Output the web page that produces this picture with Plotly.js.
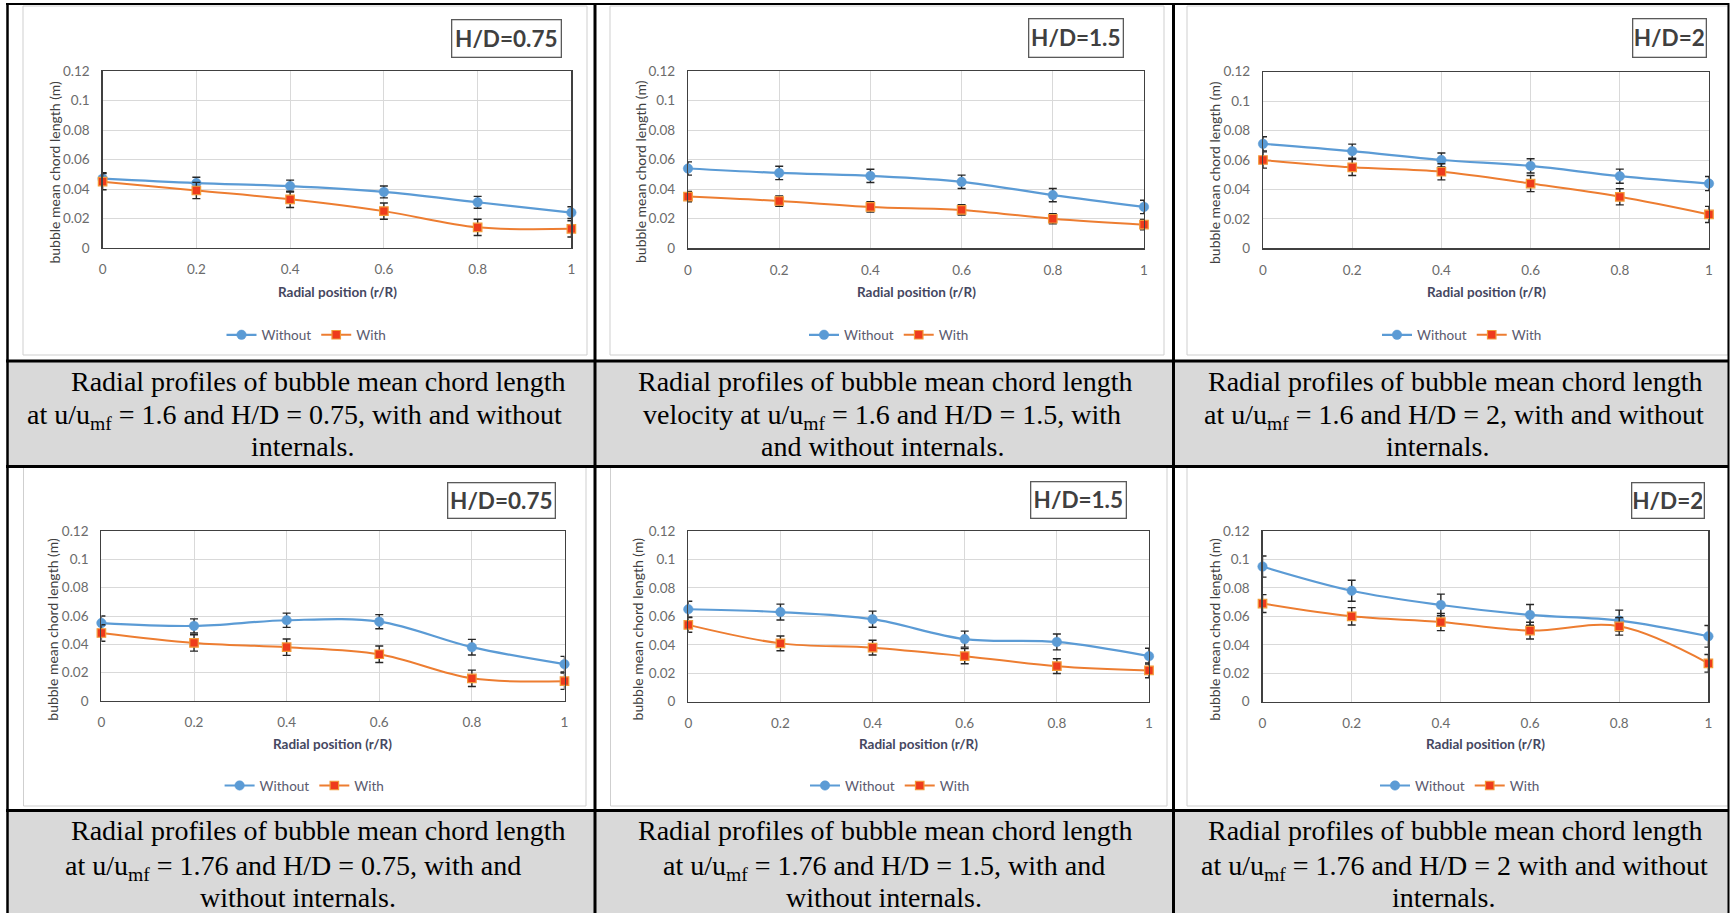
<!DOCTYPE html>
<html>
<head>
<meta charset="utf-8">
<script src="https://cdn.plot.ly/plotly-3.0.1.min.js"></script>
<style>
  html, body { margin: 0; padding: 0; background: #ffffff; }
  #fig { width: 1732px; height: 913px; }
</style>
</head>
<body>
<div id="fig"></div>
<script>
// Radial positions (r/R) and axis ticks shared by all six panels
const radialPos = [0, 0.2, 0.4, 0.6, 0.8, 1];
const yTicks = [0, 0.02, 0.04, 0.06, 0.08, 0.1, 0.12];
const seriesNames = ['Without', 'With'];
const hdLabels = ['H/D=0.75', 'H/D=1.5', 'H/D=2'];
const xTitle = 'Radial position (r/R)';
const yTitle = 'bubble mean chord length (m)';

// u/umf = 1.6
const without_u16_hd075 = [0.047, 0.044, 0.042, 0.038, 0.031, 0.024];
const with_u16_hd075    = [0.045, 0.039, 0.033, 0.025, 0.014, 0.013];
const errWithout_u16_hd075 = [0.004, 0.004, 0.004, 0.004, 0.004, 0.004];
const errWith_u16_hd075    = [0.0055, 0.0055, 0.0055, 0.0055, 0.0055, 0.0055];

const without_u16_hd15 = [0.054, 0.051, 0.049, 0.045, 0.036, 0.028];
const with_u16_hd15    = [0.035, 0.032, 0.028, 0.026, 0.020, 0.016];
const errWithout_u16_hd15 = [0.0045, 0.0045, 0.0045, 0.0045, 0.0045, 0.0045];
const errWith_u16_hd15    = [0.0035, 0.0035, 0.0035, 0.0035, 0.0035, 0.0035];

const without_u16_hd2 = [0.071, 0.066, 0.060, 0.056, 0.049, 0.044];
const with_u16_hd2    = [0.060, 0.055, 0.052, 0.044, 0.035, 0.023];
const errWithout_u16_hd2 = [0.0048, 0.0048, 0.0048, 0.0048, 0.0048, 0.0048];
const errWith_u16_hd2    = [0.0055, 0.0055, 0.0055, 0.0055, 0.0055, 0.0055];

// u/umf = 1.76
const without_u176_hd075 = [0.055, 0.053, 0.057, 0.056, 0.038, 0.026];
const with_u176_hd075    = [0.048, 0.041, 0.038, 0.033, 0.016, 0.014];
const errWithout_u176_hd075 = [0.005, 0.005, 0.005, 0.005, 0.0055, 0.0055];
const errWith_u176_hd075    = [0.0058, 0.0058, 0.0058, 0.0058, 0.0058, 0.0058];

const without_u176_hd15 = [0.065, 0.063, 0.058, 0.044, 0.042, 0.032];
const with_u176_hd15    = [0.054, 0.041, 0.038, 0.032, 0.025, 0.022];
const errWithout_u176_hd15 = [0.0056, 0.0056, 0.0057, 0.0056, 0.0056, 0.0056];
const errWith_u176_hd15    = [0.0052, 0.0052, 0.0052, 0.0053, 0.0052, 0.0052];

const without_u176_hd2 = [0.095, 0.078, 0.068, 0.061, 0.057, 0.046];
const with_u176_hd2    = [0.069, 0.060, 0.056, 0.050, 0.053, 0.027];
const errWithout_u176_hd2 = [0.0074, 0.0074, 0.0076, 0.0073, 0.0074, 0.0076];
const errWith_u176_hd2    = [0.0063, 0.0061, 0.006, 0.0059, 0.0062, 0.0062];

// Caption lines under each panel (row 1 then row 2, left to right)
const captionLines = [
  ['Radial profiles of bubble mean chord length', 'at u/u<sub>mf</sub> = 1.6 and H/D = 0.75, with and without', 'internals.'],
  ['Radial profiles of bubble mean chord length', 'velocity at u/u<sub>mf</sub> = 1.6 and H/D = 1.5, with', 'and without internals.'],
  ['Radial profiles of bubble mean chord length', 'at u/u<sub>mf</sub> = 1.6 and H/D = 2, with and without', 'internals.'],
  ['Radial profiles of bubble mean chord length', 'at u/u<sub>mf</sub> = 1.76 and H/D = 0.75, with and', 'without internals.'],
  ['Radial profiles of bubble mean chord length', 'at u/u<sub>mf</sub> = 1.76 and H/D = 1.5, with and', 'without internals.'],
  ['Radial profiles of bubble mean chord length', 'at u/u<sub>mf</sub> = 1.76 and H/D = 2 with and without', 'internals.']
];

// ---- page geometry (pixels) ----
const W = 1732, H = 913;
const fx = x => x / W;
const fy = y => 1 - y / H;

const SANS = 'Lato';
const SERIF = 'Liberation Serif';

const panels = [
  { wo: without_u16_hd075, wi: with_u16_hd075, ewo: errWithout_u16_hd075, ewi: errWith_u16_hd075, hd: hdLabels[0],
    px: [102.6, 571.4], py: [71, 248], box: [506.7, 38.3, 110, 38], leg: [231.5, 335], yt: [53.6, 172], xtY: 292 },
  { wo: without_u16_hd15, wi: with_u16_hd15, ewo: errWithout_u16_hd15, ewi: errWith_u16_hd15, hd: hdLabels[1],
    px: [688, 1144], py: [71, 248.3], box: [1075.5, 37.5, 95, 39], leg: [814, 335], yt: [640, 172], xtY: 292 },
  { wo: without_u16_hd2, wi: with_u16_hd2, ewo: errWithout_u16_hd2, ewi: errWith_u16_hd2, hd: hdLabels[2],
    px: [1263, 1709], py: [71.7, 248.3], box: [1669, 38.5, 74, 39], leg: [1387, 335], yt: [1215, 173], xtY: 292 },
  { wo: without_u176_hd075, wi: with_u176_hd075, ewo: errWithout_u176_hd075, ewi: errWith_u176_hd075, hd: hdLabels[0],
    px: [101.4, 564.5], py: [531, 701], box: [501, 500, 108, 36], leg: [229.6, 785.7], yt: [51.7, 629], xtY: 744 },
  { wo: without_u176_hd15, wi: with_u176_hd15, ewo: errWithout_u176_hd15, ewi: errWith_u176_hd15, hd: hdLabels[1],
    px: [688.3, 1149], py: [531, 701.7], box: [1078.7, 500, 96, 37], leg: [815, 785.7], yt: [637.4, 629], xtY: 744 },
  { wo: without_u176_hd2, wi: with_u176_hd2, ewo: errWithout_u176_hd2, ewi: errWith_u176_hd2, hd: hdLabels[2],
    px: [1262.5, 1708.4], py: [531, 701.7], box: [1667.5, 500, 73, 36], leg: [1385, 785.7], yt: [1213.7, 629], xtY: 744 }
];

// caption line centres (x per line) and line tops (y)
const captionX = [
  [318, 294, 302], [885, 882, 883], [1455, 1453.6, 1437],
  [318, 293, 298], [885, 884, 884], [1455, 1454, 1443]
];
const captionTopsRow = [[364.5, 398, 429.5], [813.5, 848.5, 880.5]];

const BLUE = '#5B9BD5', ORANGE = '#ED7D31';
const tickFont = { family: SANS, size: 13.5, color: '#6b6b6b' };

const data = [];
const layout = {
  width: W, height: H,
  margin: { l: 0, r: 0, t: 0, b: 0 },
  paper_bgcolor: '#ffffff', plot_bgcolor: '#ffffff',
  font: { family: SANS },
  showlegend: true,
  annotations: [], shapes: []
};

panels.forEach((p, i) => {
  const n = i + 1;
  const xa = n === 1 ? 'x' : 'x' + n;
  const ya = n === 1 ? 'y' : 'y' + n;
  const legName = n === 1 ? 'legend' : 'legend' + n;

  layout[n === 1 ? 'xaxis' : 'xaxis' + n] = {
    domain: [fx(p.px[0]), fx(p.px[1])], anchor: ya, range: [0, 1],
    tickvals: radialPos, showline: true, mirror: true, linecolor: '#404040', linewidth: 1.2,
    showgrid: true, gridcolor: '#d9d9d9', gridwidth: 1, zeroline: false,
    ticks: 'outside', ticklen: 9, tickcolor: 'rgba(0,0,0,0)', tickfont: tickFont, fixedrange: true
  };
  layout[n === 1 ? 'yaxis' : 'yaxis' + n] = {
    domain: [fy(p.py[1]), fy(p.py[0])], anchor: xa, range: [0, 0.12],
    tickvals: yTicks, showline: true, mirror: true, linecolor: '#404040', linewidth: 1.2,
    showgrid: true, gridcolor: '#d9d9d9', gridwidth: 1, zeroline: false,
    ticks: 'outside', ticklen: 9, tickcolor: 'rgba(0,0,0,0)', tickfont: tickFont, fixedrange: true
  };

  data.push({
    type: 'scatter', mode: 'lines+markers', name: seriesNames[0], x: radialPos, y: p.wo,
    xaxis: xa, yaxis: ya, legend: legName, cliponaxis: false,
    line: { color: BLUE, width: 2.2, shape: 'spline', smoothing: 1 },
    marker: { symbol: 'circle', size: 9.5, color: BLUE, line: { color: BLUE, width: 0.5 } },
    error_y: { type: 'data', array: p.ewo, visible: true, color: '#262626', thickness: 1.4, width: 4 }
  });
  data.push({
    type: 'scatter', mode: 'lines+markers', name: seriesNames[1], x: radialPos, y: p.wi,
    xaxis: xa, yaxis: ya, legend: legName, cliponaxis: false,
    line: { color: ORANGE, width: 2, shape: 'spline', smoothing: 1 },
    marker: { symbol: 'square', size: 8.5, color: '#EE3B1C', line: { color: '#F29A38', width: 1.2 } },
    error_y: { type: 'data', array: p.ewi, visible: true, color: '#262626', thickness: 1.4, width: 4 }
  });

  layout[legName] = {
    orientation: 'h', x: fx(p.leg[0] - 10), y: fy(p.leg[1]), xanchor: 'left', yanchor: 'middle',
    bgcolor: 'rgba(0,0,0,0)', borderwidth: 0, itemwidth: 30,
    font: { family: SANS, size: 13.5, color: '#5a5a6e' }
  };

  // axis titles
  layout.annotations.push({
    xref: 'paper', yref: 'paper', x: fx((p.px[0] + p.px[1]) / 2), y: fy(p.xtY),
    xanchor: 'center', yanchor: 'middle', showarrow: false, text: '<b>' + xTitle + '</b>',
    font: { family: SANS, size: 13.5, color: '#45475f' }
  });
  layout.annotations.push({
    xref: 'paper', yref: 'paper', x: fx(p.yt[0]), y: fy(p.yt[1]), textangle: -90,
    xanchor: 'center', yanchor: 'middle', showarrow: false, text: yTitle,
    font: { family: SANS, size: 14, color: '#404040' }
  });
  // H/D label box
  layout.annotations.push({
    xref: 'paper', yref: 'paper', x: fx(p.box[0]), y: fy(p.box[1]),
    xanchor: 'center', yanchor: 'middle', showarrow: false, text: '<b>' + p.hd + '</b>',
    width: p.box[2] - 4, height: p.box[3] - 4, align: 'center', valign: 'middle',
    bordercolor: '#5a5a5a', borderwidth: 1.3, borderpad: 1, bgcolor: '#ffffff',
    font: { family: SANS, size: 22.5, color: '#404040' }
  });

  // captions
  const row = i < 3 ? 0 : 1;
  captionLines[i].forEach((line, k) => {
    layout.annotations.push({
      xref: 'paper', yref: 'paper', x: fx(captionX[i][k]), y: fy(captionTopsRow[row][k]),
      xanchor: 'center', yanchor: 'top', showarrow: false, text: line, borderpad: 0,
      font: { family: SERIF, size: 28, color: '#000000' }
    });
  });
});

// ---- table: caption bands, chart frames, cell borders ----
const rect = (x0, y0, x1, y1, extra) => Object.assign({
  type: 'rect', xref: 'paper', yref: 'paper', x0: fx(x0), x1: fx(x1), y0: fy(y1), y1: fy(y0)
}, extra);
const hline = (x0, x1, y, w) => ({ type: 'line', xref: 'paper', yref: 'paper', x0: fx(x0), x1: fx(x1), y0: fy(y), y1: fy(y), line: { color: '#000000', width: w }, layer: 'above' });
const vline = (x, y0, y1, w) => ({ type: 'line', xref: 'paper', yref: 'paper', x0: fx(x), x1: fx(x), y0: fy(y0), y1: fy(y1), line: { color: '#000000', width: w }, layer: 'above' });

// grey caption bands
layout.shapes.push(rect(7, 361, 1728, 466.5, { fillcolor: '#d9d9d9', line: { width: 0 }, layer: 'below' }));
layout.shapes.push(rect(7, 810.5, 1728, 913, { fillcolor: '#d9d9d9', line: { width: 0 }, layer: 'below' }));

// light frames around each chart area
const frames = [[23, 6, 587, 355], [610, 6, 1164, 355], [1187, 6, 1728, 355],
                [23.5, 467.5, 586, 806], [610.5, 467.5, 1167, 806], [1187, 467.5, 1728, 806]];
frames.forEach(f => layout.shapes.push(rect(f[0], f[1], f[2], f[3], { line: { color: '#cfcfcf', width: 1 }, layer: 'below' })));

// table lines
layout.shapes.push(hline(6, 1729, 4, 2));
layout.shapes.push(hline(6, 1729, 361, 3));
layout.shapes.push(hline(6, 1729, 466.5, 3));
layout.shapes.push(hline(6, 1729, 810.5, 3));
layout.shapes.push(vline(7.5, 3, 913, 2.5));
layout.shapes.push(vline(1728.5, 3, 913, 2));
layout.shapes.push(vline(595, 3, 913, 3));
layout.shapes.push(vline(1173.5, 3, 913, 3));

Plotly.newPlot('fig', data, layout, { displayModeBar: false, staticPlot: true });
</script>
</body>
</html>
